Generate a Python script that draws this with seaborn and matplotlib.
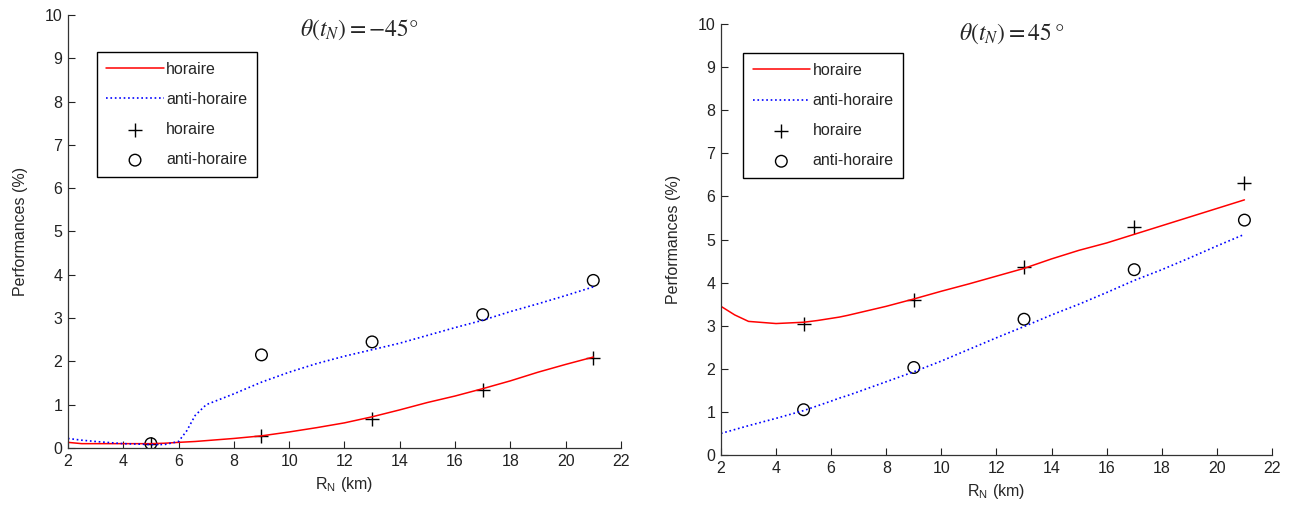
import numpy as np
import pandas as pd
import seaborn as sns
import matplotlib
matplotlib.use("Agg")
import matplotlib.pyplot as plt

# courbes (simulation)
r_curve = [2, 2.5, 3, 4, 5, 5.5, 6, 6.3, 6.6, 7, 8, 9, 10, 11, 12, 13, 14, 15, 16, 17, 18, 19, 20, 21]
left_hor = [0.13, 0.10, 0.10, 0.10, 0.10, 0.11, 0.13, 0.14, 0.15, 0.17, 0.22, 0.28, 0.37, 0.47, 0.58, 0.72,
            0.88, 1.05, 1.20, 1.37, 1.55, 1.75, 1.93, 2.10]
left_anti = [0.22, 0.18, 0.15, 0.10, 0.08, 0.08, 0.15, 0.40, 0.75, 1.00, 1.25, 1.52, 1.75, 1.95, 2.12, 2.27,
             2.42, 2.60, 2.78, 2.95, 3.15, 3.33, 3.52, 3.72]
right_hor = [3.45, 3.25, 3.10, 3.05, 3.08, 3.12, 3.17, 3.20, 3.24, 3.30, 3.45, 3.62, 3.80, 3.97, 4.15, 4.33,
             4.55, 4.75, 4.92, 5.12, 5.32, 5.52, 5.72, 5.92]
right_anti = [0.50, 0.59, 0.68, 0.85, 1.03, 1.14, 1.25, 1.32, 1.38, 1.47, 1.70, 1.93, 2.18, 2.45, 2.72, 2.98,
              3.25, 3.50, 3.77, 4.05, 4.30, 4.57, 4.85, 5.12]

# points (mesures)
r_pts = [5, 9, 13, 17, 21]
left_hor_pts = [0.10, 0.27, 0.68, 1.33, 2.08]
left_anti_pts = [0.10, 2.15, 2.45, 3.08, 3.87]
right_hor_pts = [3.05, 3.60, 4.37, 5.28, 6.30]
right_anti_pts = [1.05, 2.03, 3.15, 4.30, 5.45]

titles = [r"$\theta\left(t_N\right) = -45°$", r"$\theta\left(t_N\right) = 45\,°$"]

sns.set_style("ticks")
plt.rcParams["font.family"] = ["Liberation Sans", "DejaVu Sans"]
plt.rcParams["mathtext.fontset"] = "stix"
plt.rcParams["xtick.direction"] = "in"
plt.rcParams["ytick.direction"] = "in"

fig = plt.figure(figsize=(12.99, 5.07), dpi=100)
ax1 = fig.add_axes([0.0523, 0.1164, 0.4257, 0.8540])
ax2 = fig.add_axes([0.5550, 0.1026, 0.4242, 0.8500])

panels = [
    (ax1, left_hor, left_anti, left_hor_pts, left_anti_pts, titles[0], (0.527, 0.966), (0.052, 0.914)),
    (ax2, right_hor, right_anti, right_hor_pts, right_anti_pts, titles[1], (0.528, 0.978), (0.040, 0.932)),
]

for ax, hor, anti, hor_p, anti_p, title, tpos, lpos in panels:
    sns.lineplot(x=r_curve, y=hor, ax=ax, color="red", linewidth=1.1, label="horaire", sort=False)
    sns.lineplot(x=r_curve, y=anti, ax=ax, color="blue", linewidth=1.2, linestyle=":", label="anti-horaire", sort=False)
    sns.scatterplot(x=r_pts, y=hor_p, ax=ax, marker="+", color="black", s=90, linewidth=1.0, label="horaire")
    sns.scatterplot(x=r_pts, y=anti_p, ax=ax, marker="o", facecolor="none", edgecolor="black", s=70,
                    linewidth=1.0, label="anti-horaire")

    ax.set_xlim(2, 22)
    ax.set_ylim(0, 10)
    ax.set_xticks(range(2, 23, 2))
    ax.set_yticks(range(0, 11))
    ax.tick_params(labelsize=11.5, length=5, width=0.8, colors="#222222", pad=4)
    sns.despine(ax=ax)
    for sp in ["left", "bottom"]:
        ax.spines[sp].set_linewidth(0.9)
        ax.spines[sp].set_color("#333333")
    ax.set_xlabel(r"R$_\mathregular{N}$ (km)", fontsize=11.5, labelpad=5)
    ax.set_ylabel("Performances (%)", fontsize=11.5, labelpad=12)
    ax.text(tpos[0], tpos[1], title, transform=ax.transAxes, ha="center", va="center", fontsize=17)

    leg = ax.legend(loc="upper left", bbox_to_anchor=lpos, fontsize=11.5, frameon=True,
                    fancybox=False, edgecolor="black", framealpha=1, handlelength=3.6,
                    borderpad=0.6, labelspacing=0.95, handletextpad=0.15, borderaxespad=0)
    leg.get_frame().set_linewidth(1.0)

fig.savefig("out.png", dpi=100)
